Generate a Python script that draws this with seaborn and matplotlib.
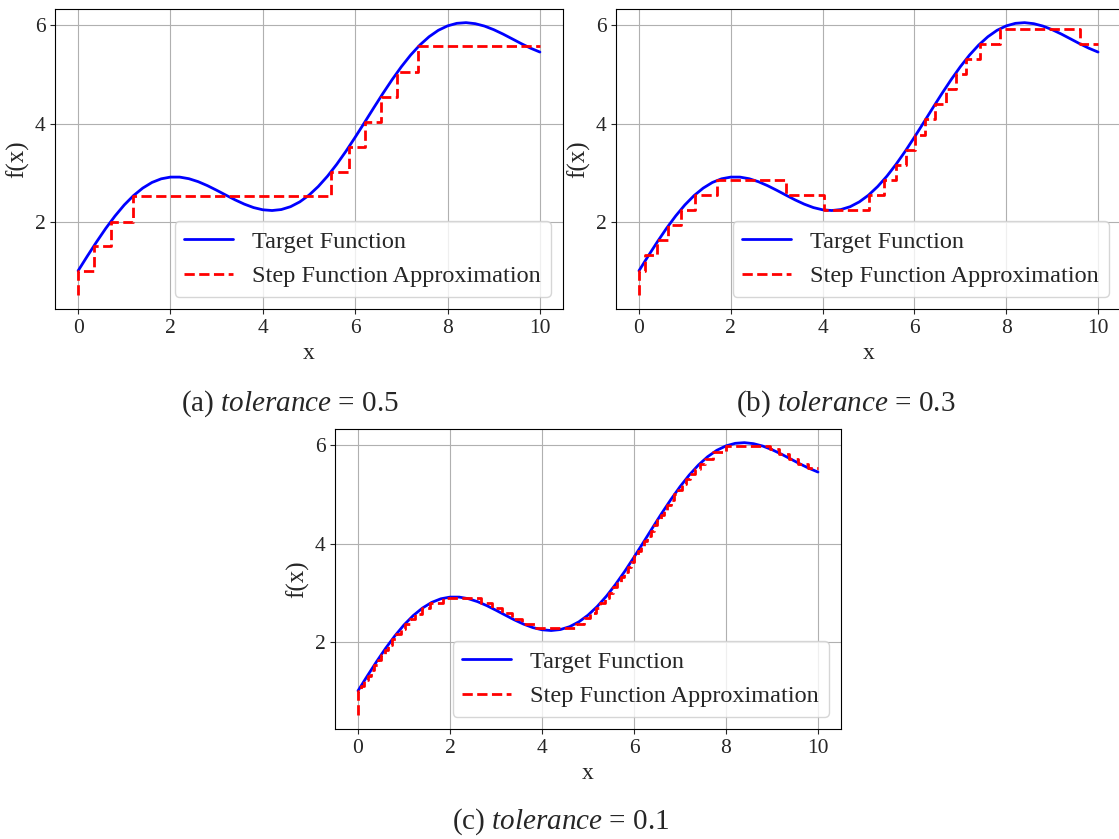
import numpy as np
import matplotlib
matplotlib.use("Agg")
import matplotlib.pyplot as plt
import seaborn as sns

# --- Data ---
# target function, sampled every 0.2 on [0, 10]
x_target = np.linspace(0, 10, 51)
f_target = [1.000, 1.299, 1.589, 1.865, 2.117, 2.342, 2.532, 2.685, 2.800, 2.874,
            2.909, 2.909, 2.876, 2.816, 2.735, 2.641, 2.542, 2.445, 2.358, 2.288,
            2.243, 2.228, 2.248, 2.306, 2.404, 2.541, 2.717, 2.927, 3.169, 3.435,
            3.721, 4.017, 4.317, 4.612, 4.894, 5.157, 5.394, 5.599, 5.768, 5.899,
            5.989, 6.041, 6.055, 6.034, 5.985, 5.912, 5.823, 5.725, 5.626, 5.534,
            5.456]

# step approximations: breakpoints and levels (held until next breakpoint)
steps_a_x = [0, 0, 0.335, 0.71, 1.19, 5.48, 5.86, 6.21, 6.55, 6.91, 7.36, 10.0]
steps_a_y = [0.5, 1.0, 1.50, 2.00, 2.52, 3.02, 3.53, 4.03, 4.54, 5.05, 5.57, 5.57]

steps_b_x = [0, 0, 0.13, 0.40, 0.64, 0.92, 1.23, 1.70, 3.20, 4.03, 5.01, 5.33,
             5.60, 5.82, 6.02, 6.23, 6.44, 6.69, 6.90, 7.13, 7.42, 7.86, 9.60, 10.0]
steps_b_y = [0.5, 1.0, 1.32, 1.62, 1.93, 2.24, 2.55, 2.85, 2.55, 2.24, 2.55, 2.85,
             3.16, 3.47, 3.77, 4.09, 4.40, 4.71, 5.01, 5.32, 5.63, 5.93, 5.63, 5.63]

steps_c_x = [0, 0, 0.07, 0.14, 0.21, 0.28, 0.35, 0.43, 0.50, 0.58, 0.66, 0.745,
             0.83, 0.925, 1.02, 1.13, 1.245, 1.39, 1.56, 1.84,
             2.67, 2.91, 3.12, 3.34, 3.57, 3.87,
             4.74, 4.92, 5.05, 5.17, 5.27, 5.38, 5.46, 5.55, 5.63, 5.72, 5.79,
             5.87, 5.94, 6.01, 6.08, 6.15, 6.22, 6.29, 6.36, 6.44, 6.50, 6.58,
             6.65, 6.72, 6.80, 6.88, 6.96, 7.04, 7.13, 7.22, 7.32, 7.43, 7.55,
             7.72, 8.00,
             8.95, 9.15, 9.36, 9.57, 9.78, 10.0]
steps_c_y = [0.5, 1.0, 1.10, 1.21, 1.31, 1.42, 1.52, 1.63, 1.73, 1.84, 1.94, 2.05,
             2.15, 2.26, 2.36, 2.47, 2.57, 2.68, 2.78, 2.89,
             2.78, 2.68, 2.58, 2.47, 2.37, 2.27,
             2.37, 2.48, 2.58, 2.69, 2.79, 2.90, 3.00, 3.11, 3.21, 3.32, 3.42,
             3.53, 3.63, 3.74, 3.84, 3.95, 4.05, 4.16, 4.26, 4.37, 4.47, 4.58,
             4.68, 4.79, 4.89, 5.00, 5.10, 5.21, 5.31, 5.42, 5.52, 5.63, 5.73,
             5.86, 5.99,
             5.93, 5.83, 5.73, 5.63, 5.53, 5.53]

captions = ["(a) $\\mathit{tolerance}$ = 0.5",
            "(b) $\\mathit{tolerance}$ = 0.3",
            "(c) $\\mathit{tolerance}$ = 0.1"]

# --- Style ---
sns.set_style("ticks", {"axes.grid": True, "grid.color": "#b0b0b0",
                        "axes.edgecolor": "black", "xtick.direction": "out",
                        "ytick.direction": "out"})
plt.rcParams['font.family'] = ['Liberation Serif', 'DejaVu Serif']
plt.rcParams['mathtext.fontset'] = 'custom'
plt.rcParams['mathtext.rm'] = 'Liberation Serif'
plt.rcParams['mathtext.it'] = 'Liberation Serif:italic'
plt.rcParams['grid.linewidth'] = 0.8
plt.rcParams['axes.linewidth'] = 0.8

W, H = 1119, 839
fig = plt.figure(figsize=(W / 100, H / 100), dpi=100)


def px_axes(left, top, right, bottom):
    return fig.add_axes([left / W, 1 - bottom / H, (right - left) / W, (bottom - top) / H])


axes = [px_axes(55, 9, 563, 309),
        px_axes(616, 9, 1121, 309),
        px_axes(335, 429, 841, 729)]
steps = [(steps_a_x, steps_a_y), (steps_b_x, steps_b_y), (steps_c_x, steps_c_y)]

for ax, (sx, sy) in zip(axes, steps):
    sns.lineplot(x=x_target, y=f_target, ax=ax, color='blue', linewidth=2,
                 label='Target Function', legend=False)
    sns.lineplot(x=sx, y=sy, ax=ax, color='red', linestyle='--', linewidth=2,
                 drawstyle='steps-post', estimator=None, sort=False,
                 label='Step Function Approximation', legend=False)
    ax.set_xlim(-0.5, 10.5)
    ax.set_ylim(0.222, 6.333)
    ax.set_xticks([0, 2, 4, 6, 8, 10])
    ax.set_yticks([2, 4, 6])
    ax.tick_params(labelsize=15.5, length=3.5, width=0.8)
    ax.set_xlabel('x', fontsize=17)
    ax.set_ylabel('f(x)', fontsize=18)
    ax.grid(True, color='#b0b0b0', linewidth=0.8)
    ax.legend(loc='lower right', fontsize=17.5, framealpha=0.8)

# subfigure captions
fig.text(290 / W, 1 - 404 / H, captions[0], ha='center', va='center', fontsize=21)
fig.text(846 / W, 1 - 404 / H, captions[1], ha='center', va='center', fontsize=21)
fig.text(561 / W, 1 - 822 / H, captions[2], ha='center', va='center', fontsize=21)

fig.savefig('out.png', dpi=100)
